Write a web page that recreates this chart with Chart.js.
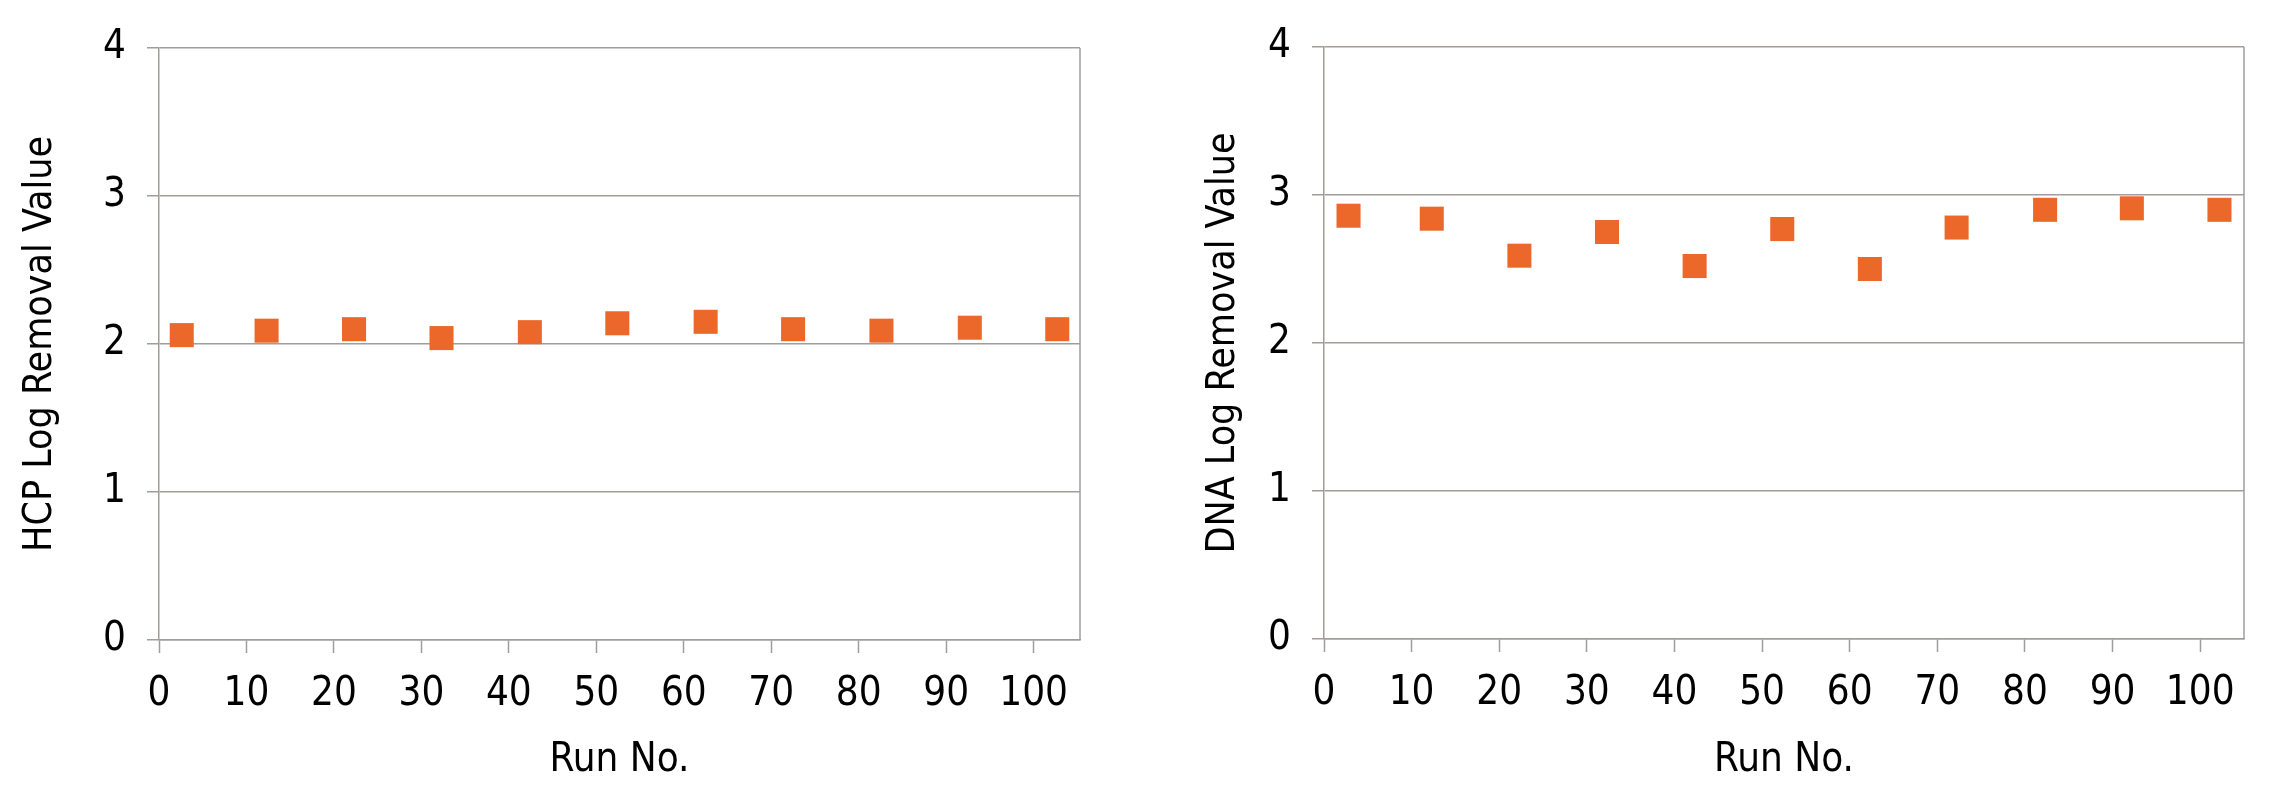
<!DOCTYPE html>
<html>
<head>
<meta charset="utf-8">
<script src="https://cdn.jsdelivr.net/npm/chart.js@4.4.1/dist/chart.umd.min.js"></script>
<style>
  html, body { margin: 0; padding: 0; background: #fff; }
  #wrap { position: relative; width: 2278px; height: 797px; }
  canvas { position: absolute; top: 0; }
  #hcpChart { left: 0; }
  #dnaChart { left: 1150px; }
</style>
</head>
<body>
<div id="wrap">
  <canvas id="hcpChart" width="1150" height="797"></canvas>
  <canvas id="dnaChart" width="1128" height="797"></canvas>
</div>
<script>
// ===============================
// Data
// ===============================
const hcpRuns = [2.6, 12.3, 22.3, 32.3, 42.4, 52.4, 62.5, 72.5, 82.6, 92.7, 102.7];
const hcpLrv = [2.06, 2.09, 2.10, 2.04, 2.08, 2.14, 2.15, 2.10, 2.09, 2.11, 2.10];

const dnaRuns = [2.8, 12.3, 22.3, 32.3, 42.3, 52.3, 62.3, 72.2, 82.3, 92.2, 102.2];
const dnaLrv = [2.86, 2.84, 2.59, 2.75, 2.52, 2.77, 2.50, 2.78, 2.90, 2.91, 2.90];

const xTitle = "Run No.";

// ===============================
// Shared look
// ===============================
const FONT = "'Liberation Sans Narrow', 'Arial Narrow', 'DejaVu Sans Condensed', 'Liberation Sans', sans-serif";
const ORANGE = "rgb(236, 104, 42)";
const GRID = "#a19d9b";

// right frame line of the plot area
const rightFrame = {
  id: "rightFrame",
  afterDraw(chart) {
    const { ctx, chartArea } = chart;
    ctx.save();
    ctx.strokeStyle = GRID;
    ctx.lineWidth = 1.5;
    ctx.beginPath();
    ctx.moveTo(chartArea.right, chartArea.top);
    ctx.lineTo(chartArea.right, chartArea.bottom);
    ctx.stroke();
    ctx.restore();
  }
};

function makeChart(id, runs, values, yLabel, cfg) {
  const points = runs.map((r, i) => ({ x: r, y: values[i] }));
  return new Chart(document.getElementById(id), {
    type: "scatter",
    data: {
      datasets: [{
        data: points,
        pointStyle: "rect",
        pointRadius: 17,
        pointHoverRadius: 17,
        pointBackgroundColor: ORANGE,
        pointBorderColor: ORANGE,
        pointBorderWidth: 0
      }]
    },
    options: {
      responsive: false,
      devicePixelRatio: 1,
      animation: false,
      layout: {
        padding: { top: cfg.top, right: cfg.right, bottom: 0, left: 0 }
      },
      plugins: {
        legend: { display: false },
        tooltip: { enabled: false }
      },
      scales: {
        x: {
          type: "linear",
          min: 0,
          max: cfg.xMax,
          afterFit: s => { s.height = 797 - cfg.bottomPx; },
          ticks: {
            stepSize: 10,
            includeBounds: false,
            color: "#000",
            padding: 18,
            font: { family: FONT, size: 40 }
          },
          grid: {
            drawOnChartArea: false,
            drawTicks: true,
            tickLength: 13,
            tickColor: GRID,
            tickWidth: 1.5
          },
          border: { color: GRID, width: 1.5 },
          title: {
            display: true,
            text: xTitle,
            color: "#000",
            font: { family: FONT, size: 40 },
            padding: { top: 0, bottom: 12 }
          }
        },
        y: {
          min: 0,
          max: 4,
          afterFit: s => { s.width = cfg.leftPx; },
          ticks: {
            stepSize: 1,
            color: "#000",
            padding: 21,
            font: { family: FONT, size: 40 }
          },
          grid: {
            color: GRID,
            lineWidth: 1.5,
            tickLength: 12
          },
          border: { color: GRID, width: 1.5 },
          title: {
            display: true,
            text: yLabel,
            color: "#000",
            font: { family: FONT, size: 39 },
            padding: { top: cfg.titlePad, bottom: 0 }
          }
        }
      }
    },
    plugins: [rightFrame]
  });
}

makeChart("hcpChart", hcpRuns, hcpLrv, "HCP Log Removal Value",
  { top: 48, right: 70, bottomPx: 640, leftPx: 159, xMax: 105.3, titlePad: 17 });

makeChart("dnaChart", dnaRuns, dnaLrv, "DNA Log Removal Value",
  { top: 47, right: 34, bottomPx: 639, leftPx: 174, xMax: 105.0, titlePad: 50 });
</script>
</body>
</html>
